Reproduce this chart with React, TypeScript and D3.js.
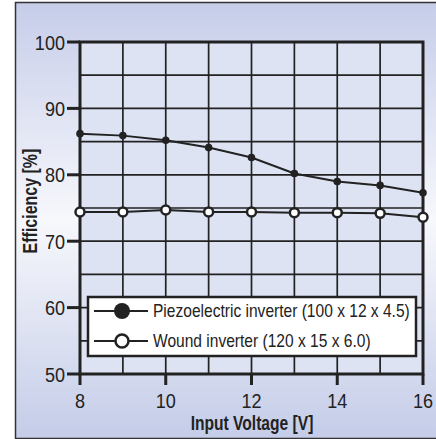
import React from 'react';
import * as d3 from 'd3';

const voltages = [8, 9, 10, 11, 12, 13, 14, 15, 16];
const piezoEfficiency = [86.2, 85.9, 85.2, 84.1, 82.6, 80.2, 79.0, 78.4, 77.3];
const woundEfficiency = [74.4, 74.4, 74.7, 74.4, 74.4, 74.3, 74.3, 74.2, 73.6];
const xTicks = [8, 10, 12, 14, 16];
const yTicks = [50, 60, 70, 80, 90, 100];
const seriesNames = ['Piezoelectric inverter (100 x 12 x 4.5)', 'Wound inverter (120 x 15 x 6.0)'];

const W = 436;
const H = 439;
const FONT = '"Liberation Sans", Arial, sans-serif';
const INK = '#222';

// no condensed face installed, so squeeze the regular one horizontally
function Txt(props: {
  x: number;
  y: number;
  sx: number;
  size: number;
  anchor?: string;
  bold?: boolean;
  rotate?: number;
  dy?: string;
  children: React.ReactNode;
}) {
  const { x, y, sx, size, anchor = 'start', bold, rotate = 0, dy, children } = props;
  return (
    <text
      transform={`translate(${x},${y}) rotate(${rotate}) scale(${sx},1)`}
      textAnchor={anchor}
      fontSize={size}
      fontWeight={bold ? 'bold' : 'normal'}
      dy={dy}
      fill={INK}
    >
      {children}
    </text>
  );
}

export default function App() {
  const x = d3.scaleLinear().domain([8, 16]).range([80, 423]);
  const y = d3.scaleLinear().domain([50, 100]).range([374, 42]);

  const line = d3
    .line<number>()
    .x((d, i) => x(voltages[i]))
    .y(d => y(d));

  const vGrid = d3.range(9, 16);
  const hGrid = d3.range(55, 100, 5);

  const legendRows = [
    { name: seriesNames[0], filled: true },
    { name: seriesNames[1], filled: false },
  ];

  return (
    <svg
      width={W}
      height={H}
      style={{ position: 'absolute', left: 0, top: 0 }}
      fontFamily={FONT}
    >
      <defs>
        <linearGradient id="bg" x1="0" y1="0" x2="0" y2="1">
          <stop offset="0" stopColor="#c6cde9" />
          <stop offset="0.5" stopColor="#f7f8fc" />
          <stop offset="1" stopColor="#c4cce8" />
        </linearGradient>
      </defs>
      <rect x={15} y={2} width={W - 15} height={H - 2} fill="url(#bg)" />
      <path d={`M${W},2.5 H15.5 V${H - 0.5} H${W}`} fill="none" stroke="#333" strokeWidth={1.5} />

      {/* plot area */}
      <rect x={x(8)} y={y(100)} width={x(16) - x(8)} height={y(50) - y(100)} fill="#dde3f3" />

      {vGrid.map(v => (
        <line key={'v' + v} x1={x(v)} x2={x(v)} y1={y(100)} y2={y(50)} stroke={INK} strokeWidth={1.7} />
      ))}
      {hGrid.map(v => (
        <line key={'h' + v} x1={x(8)} x2={x(16)} y1={y(v)} y2={y(v)} stroke={INK} strokeWidth={1.7} />
      ))}

      <rect
        x={x(8)}
        y={y(100)}
        width={x(16) - x(8)}
        height={y(50) - y(100)}
        fill="none"
        stroke={INK}
        strokeWidth={3}
      />

      {/* ticks */}
      {yTicks.map(t => (
        <g key={'yt' + t}>
          <line x1={x(8) - 13} x2={x(8)} y1={y(t)} y2={y(t)} stroke={INK} strokeWidth={3} />
          <Txt x={x(8) - 15} y={y(t)} dy="0.36em" sx={0.86} size={21} anchor="end">
            {t}
          </Txt>
        </g>
      ))}
      {xTicks.map(t => (
        <g key={'xt' + t}>
          <line x1={x(t)} x2={x(t)} y1={y(50)} y2={y(50) + 11} stroke={INK} strokeWidth={3} />
          <Txt x={x(t)} y={408} sx={0.86} size={21} anchor="middle">
            {t}
          </Txt>
        </g>
      ))}

      <Txt x={252} y={430} sx={0.8} size={19.5} anchor="middle" bold>
        Input Voltage [V]
      </Txt>
      <Txt x={37} y={201} sx={0.82} size={19.5} anchor="middle" bold rotate={-90}>
        Efficiency [%]
      </Txt>

      {/* series */}
      <path d={line(piezoEfficiency) || ''} fill="none" stroke={INK} strokeWidth={2} />
      {piezoEfficiency.map((d, i) => (
        <circle key={'p' + i} cx={x(voltages[i])} cy={y(d)} r={3.8} fill={INK} />
      ))}
      <path d={line(woundEfficiency) || ''} fill="none" stroke={INK} strokeWidth={2} />
      {woundEfficiency.map((d, i) => (
        <circle key={'w' + i} cx={x(voltages[i])} cy={y(d)} r={4.5} fill="#fff" stroke={INK} strokeWidth={2.5} />
      ))}

      {/* legend */}
      <rect x={88} y={297} width={328} height={59} fill="#fff" stroke={INK} strokeWidth={2.5} />
      {legendRows.map((r, i) => {
        const cy = 311 + i * 30;
        return (
          <g key={'l' + i}>
            <line x1={94} x2={148} y1={cy} y2={cy} stroke={INK} strokeWidth={2} />
            {r.filled ? (
              <circle cx={122} cy={cy} r={8} fill={INK} />
            ) : (
              <circle cx={122} cy={cy} r={6.5} fill="#fff" stroke={INK} strokeWidth={2.5} />
            )}
            <Txt x={153} y={cy} dy="0.36em" sx={0.865} size={18}>
              {r.name}
            </Txt>
          </g>
        );
      })}
    </svg>
  );
}
